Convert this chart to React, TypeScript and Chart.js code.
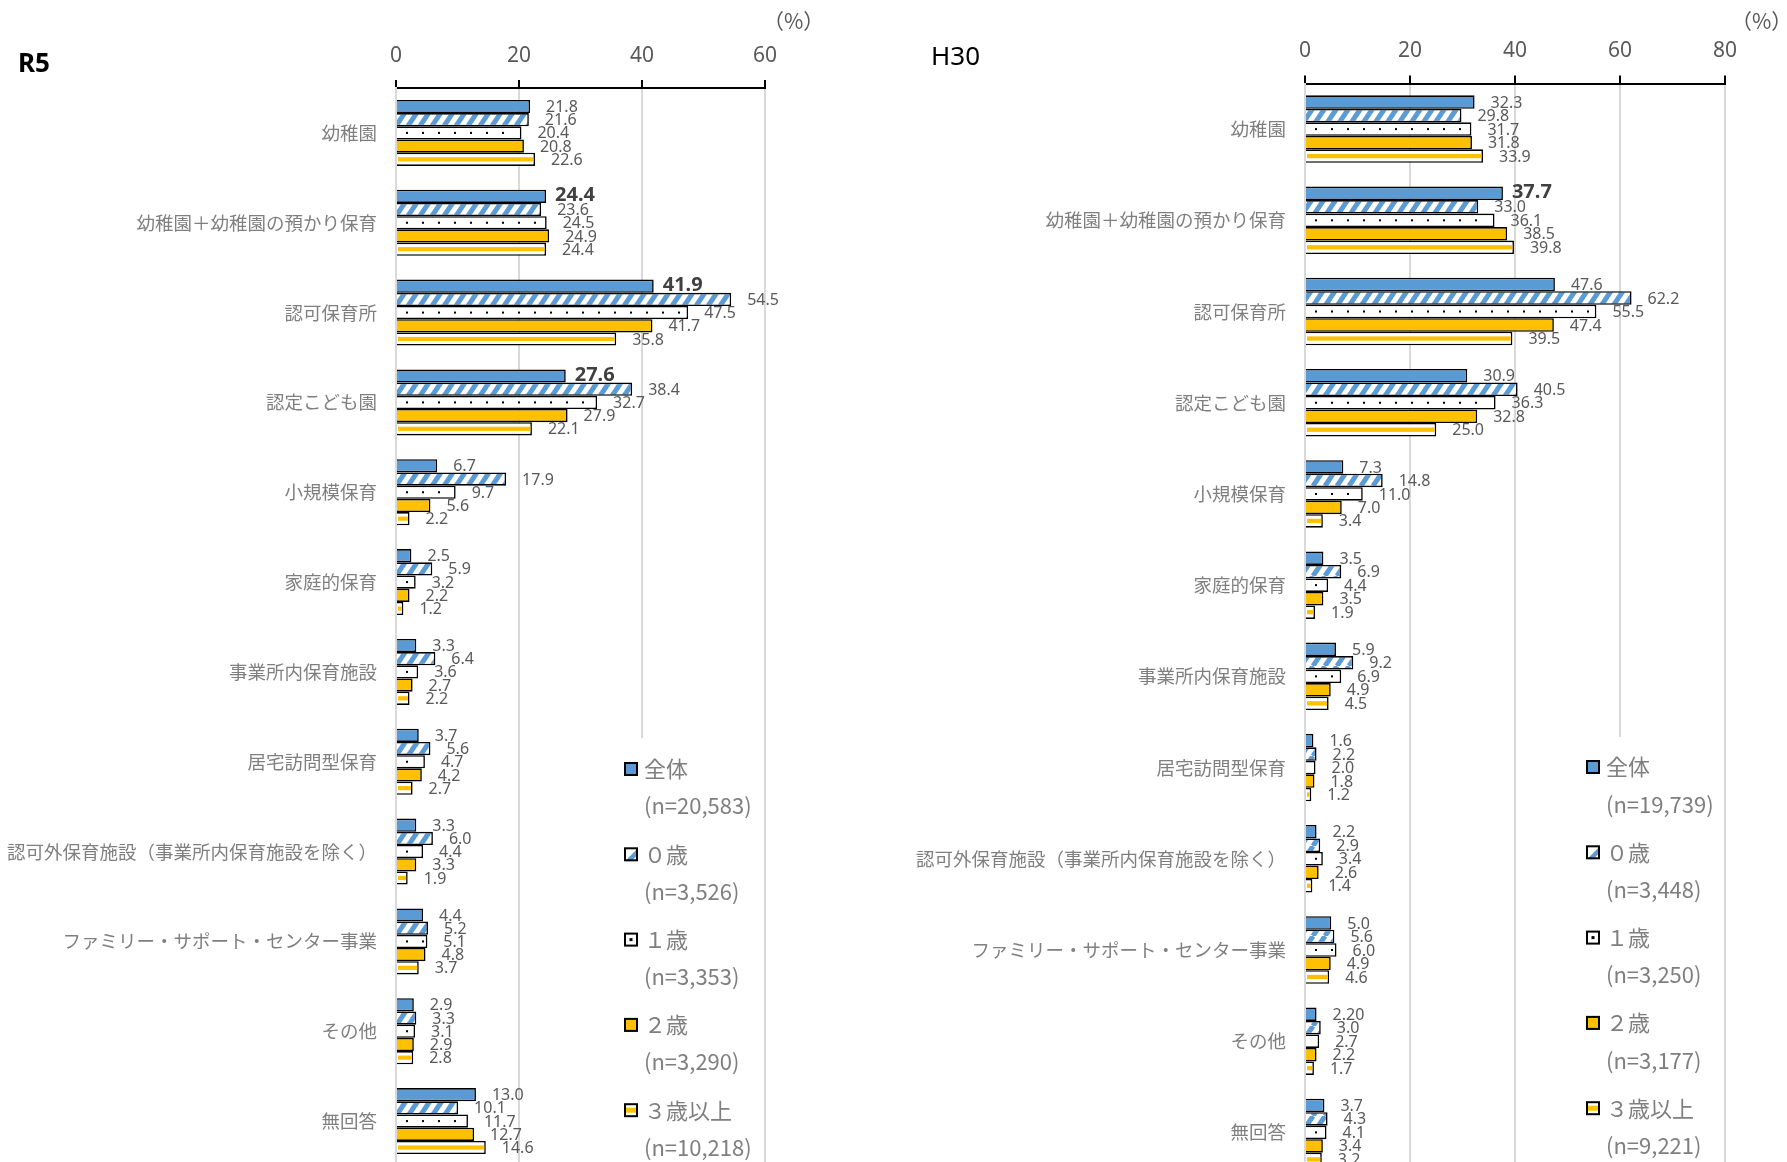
import React, { useEffect, useRef } from 'react';
import { Chart, registerables } from 'chart.js';

Chart.register(...registerables);

// ---------- DATA ----------
const categories = [
  '幼稚園',
  '幼稚園＋幼稚園の預かり保育',
  '認可保育所',
  '認定こども園',
  '小規模保育',
  '家庭的保育',
  '事業所内保育施設',
  '居宅訪問型保育',
  '認可外保育施設（事業所内保育施設を除く）',
  'ファミリー・サポート・センター事業',
  'その他',
  '無回答',
];

const seriesNames = ['全体', '０歳', '１歳', '２歳', '３歳以上'];

const r5Counts = ['(n=20,583)', '(n=3,526)', '(n=3,353)', '(n=3,290)', '(n=10,218)'];
const h30Counts = ['(n=19,739)', '(n=3,448)', '(n=3,250)', '(n=3,177)', '(n=9,221)'];

const r5All = [21.8, 24.4, 41.9, 27.6, 6.7, 2.5, 3.3, 3.7, 3.3, 4.4, 2.9, 13.0];
const r5Age0 = [21.6, 23.6, 54.5, 38.4, 17.9, 5.9, 6.4, 5.6, 6.0, 5.2, 3.3, 10.1];
const r5Age1 = [20.4, 24.5, 47.5, 32.7, 9.7, 3.2, 3.6, 4.7, 4.4, 5.1, 3.1, 11.7];
const r5Age2 = [20.8, 24.9, 41.7, 27.9, 5.6, 2.2, 2.7, 4.2, 3.3, 4.8, 2.9, 12.7];
const r5Age3 = [22.6, 24.4, 35.8, 22.1, 2.2, 1.2, 2.2, 2.7, 1.9, 3.7, 2.8, 14.6];

const h30All = [32.3, 37.7, 47.6, 30.9, 7.3, 3.5, 5.9, 1.6, 2.2, 5.0, 2.2, 3.7];
const h30Age0 = [29.8, 33.0, 62.2, 40.5, 14.8, 6.9, 9.2, 2.2, 2.9, 5.6, 3.0, 4.3];
const h30Age1 = [31.7, 36.1, 55.5, 36.3, 11.0, 4.4, 6.9, 2.0, 3.4, 6.0, 2.7, 4.1];
const h30Age2 = [31.8, 38.5, 47.4, 32.8, 7.0, 3.5, 4.9, 1.8, 2.6, 4.9, 2.2, 3.4];
const h30Age3 = [33.9, 39.8, 39.5, 25.0, 3.4, 1.9, 4.5, 1.2, 1.4, 4.6, 1.7, 3.2];

const r5Ticks = [0, 20, 40, 60];
const h30Ticks = [0, 20, 40, 60, 80];

// highlighted (bold) 全体 labels by category index
const r5BoldIdx = [1, 2, 3];
const h30BoldIdx = [1];
// label text overrides: "series-category"
const r5LabelOverrides: Record<string, string> = {};
const h30LabelOverrides: Record<string, string> = { '0-10': '2.20' };

// ---------- STYLE ----------
const BLUE = '#5B9BD5';
const YELLOW = '#FFC000';
const BW = 1.6;
const JP = '"Noto Sans CJK JP", "Noto Sans", sans-serif';
const SANS = '"Noto Sans", "Noto Sans CJK JP", sans-serif';

function makeStripePattern(ctx: CanvasRenderingContext2D): CanvasPattern | string {
  const W = 12;
  const H = 18;
  const c = document.createElement('canvas');
  c.width = W;
  c.height = H;
  const g = c.getContext('2d');
  if (!g) return BLUE;
  g.fillStyle = '#ffffff';
  g.fillRect(0, 0, W, H);
  g.strokeStyle = BLUE;
  g.lineWidth = 5;
  for (const k of [-W, 0, W]) {
    g.beginPath();
    g.moveTo(k, H);
    g.lineTo(k + W, 0);
    g.stroke();
  }
  return ctx.createPattern(c, 'repeat') || BLUE;
}

type PanelSpec = {
  values: number[][];
  counts: string[];
  ticks: number[];
  title: string;
  titleBold: boolean;
  titlePos: [number, number];
  pctPos: [number, number];
  boldIdx: number[];
  overrides: Record<string, string>;
  axisW: number;
  axisH: number;
  padRight: number;
  catPct: number;
  tickPad: number;
  legendX: number;
  legendY: number;
  legendStep: number;
  nOffset: number;
  legendBox: [number, number, number, number];
};

function drawSwatch(ctx: CanvasRenderingContext2D, di: number, x: number, y: number) {
  const s = 14;
  ctx.save();
  ctx.fillStyle = di === 0 ? BLUE : di === 3 ? YELLOW : '#ffffff';
  ctx.fillRect(x, y, s, s);
  if (di === 1) {
    ctx.save();
    ctx.beginPath();
    ctx.rect(x, y, s, s);
    ctx.clip();
    ctx.strokeStyle = BLUE;
    ctx.lineWidth = 4.5;
    ctx.beginPath();
    ctx.moveTo(x + 3, y + s + 1);
    ctx.lineTo(x + s + 1, y + 3);
    ctx.stroke();
    ctx.restore();
  }
  if (di === 2) {
    ctx.fillStyle = '#000';
    ctx.fillRect(x + s / 2 - 1.5, y + s / 2 - 1.5, 3, 3);
  }
  if (di === 4) {
    ctx.fillStyle = YELLOW;
    ctx.fillRect(x, y + s / 2 - 2.5, s, 5);
  }
  ctx.strokeStyle = '#000';
  ctx.lineWidth = 2;
  ctx.strokeRect(x + 1, y + 1, s - 2, s - 2);
  ctx.restore();
}

function makePlugin(spec: PanelSpec) {
  return {
    id: 'customDecor',
    afterDatasetsDraw(chart: any) {
      const ctx: CanvasRenderingContext2D = chart.ctx;
      ctx.save();
      // pattern overlays (dots / horizontal stripe)
      chart.data.datasets.forEach((_ds: any, di: number) => {
        const meta = chart.getDatasetMeta(di);
        meta.data.forEach((el: any) => {
          const p = el.getProps(['x', 'y', 'base', 'height'], true);
          const left = Math.min(p.x, p.base);
          const right = Math.max(p.x, p.base);
          const top = p.y - p.height / 2;
          const bottom = p.y + p.height / 2;
          if (di === 2) {
            ctx.fillStyle = '#000';
            for (let px = left + 10; px < right - BW - 2; px += 16) {
              ctx.fillRect(px - 1, p.y - 1, 2, 2);
            }
          }
          if (di === 4) {
            const ih = bottom - top - 2 * BW;
            const sh = ih * 0.42;
            ctx.fillStyle = YELLOW;
            ctx.fillRect(left + 1, p.y - sh / 2, right - left - BW - 1, sh);
          }
        });
      });
      // data labels
      ctx.textBaseline = 'middle';
      ctx.textAlign = 'left';
      chart.data.datasets.forEach((ds: any, di: number) => {
        const meta = chart.getDatasetMeta(di);
        meta.data.forEach((el: any, i: number) => {
          const p = el.getProps(['x', 'y', 'base'], true);
          const right = Math.max(p.x, p.base);
          const bold = di === 0 && spec.boldIdx.includes(i);
          const key = `${di}-${i}`;
          const txt = spec.overrides[key] ?? Number(ds.data[i]).toFixed(1);
          ctx.font = bold ? `bold 20px ${SANS}` : `16px ${SANS}`;
          ctx.fillStyle = bold ? '#404040' : '#595959';
          ctx.fillText(txt, right + (bold ? 9 : 16), p.y + (bold ? -1 : 1));
        });
      });
      ctx.restore();
    },
    afterDraw(chart: any) {
      const ctx: CanvasRenderingContext2D = chart.ctx;
      ctx.save();
      // title
      ctx.textBaseline = 'middle';
      ctx.textAlign = 'left';
      ctx.fillStyle = '#000';
      ctx.font = `${spec.titleBold ? 'bold ' : ''}26px ${SANS}`;
      ctx.fillText(spec.title, spec.titlePos[0], spec.titlePos[1]);
      // unit
      ctx.fillStyle = '#595959';
      ctx.font = `21px ${JP}`;
      ctx.fillText('（%）', spec.pctPos[0], spec.pctPos[1]);
      // legend box
      const [bx, by, bw, bh] = spec.legendBox;
      ctx.fillStyle = '#ffffff';
      ctx.fillRect(bx, by, bw, bh);
      ctx.font = `22px ${JP}`;
      seriesNames.forEach((name, di) => {
        const cy = spec.legendY + di * spec.legendStep;
        drawSwatch(ctx, di, spec.legendX, cy - 7);
        ctx.fillStyle = '#7f7f7f';
        ctx.fillText(name, spec.legendX + 20, cy);
        ctx.fillText(spec.counts[di], spec.legendX + 20, cy + spec.nOffset);
      });
      ctx.restore();
    },
  };
}

function buildConfig(spec: PanelSpec, ctx: CanvasRenderingContext2D): any {
  const stripe = makeStripePattern(ctx);
  const fills = [BLUE, stripe, '#ffffff', YELLOW, '#ffffff'];
  const datasets = spec.values.map((vals, di) => ({
    label: seriesNames[di],
    data: vals,
    backgroundColor: fills[di],
    borderColor: '#000000',
    borderWidth: BW,
    categoryPercentage: spec.catPct,
    barPercentage: 1,
  }));
  const xMax = spec.ticks[spec.ticks.length - 1];
  const step = spec.ticks[1] - spec.ticks[0];
  return {
    type: 'bar',
    data: { labels: categories, datasets },
    options: {
      indexAxis: 'y',
      responsive: false,
      maintainAspectRatio: false,
      animation: false,
      events: [],
      layout: { padding: { top: 0, right: spec.padRight, bottom: 0, left: 0 } },
      plugins: {
        legend: { display: false },
        tooltip: { enabled: false },
        title: { display: false },
      },
      scales: {
        x: {
          position: 'top',
          min: 0,
          max: xMax,
          ticks: {
            stepSize: step,
            padding: spec.tickPad,
            color: '#595959',
            font: { family: SANS, size: 21 },
          },
          grid: {
            color: '#d9d9d9',
            lineWidth: 2,
            tickColor: '#000000',
            tickLength: 8,
            tickWidth: 2,
          },
          border: { display: true, color: '#000000', width: 2 },
          afterFit: (s: any) => {
            s.height = spec.axisH;
            s.paddingLeft = 0;
            s.paddingRight = 0;
          },
        },
        y: {
          ticks: {
            padding: 19,
            color: '#7f7f7f',
            autoSkip: false,
            font: { family: JP, size: 18.5 },
          },
          grid: { display: false, drawTicks: false },
          border: { display: true, color: '#d9d9d9', width: 2 },
          afterFit: (s: any) => {
            s.width = spec.axisW;
            s.paddingTop = 0;
            s.paddingBottom = 0;
          },
        },
      },
    },
    plugins: [makePlugin(spec)],
  };
}

const r5Spec: PanelSpec = {
  values: [r5All, r5Age0, r5Age1, r5Age2, r5Age3],
  counts: r5Counts,
  ticks: r5Ticks,
  title: 'R5',
  titleBold: true,
  titlePos: [18, 65],
  pctPos: [763, 21],
  boldIdx: r5BoldIdx,
  overrides: r5LabelOverrides,
  axisW: 396,
  axisH: 88,
  padRight: 128,
  catPct: 0.735,
  tickPad: 11,
  legendX: 624,
  legendY: 769,
  legendStep: 85.3,
  nOffset: 37,
  legendBox: [612, 738, 146, 440],
};

const h30Spec: PanelSpec = {
  values: [h30All, h30Age0, h30Age1, h30Age2, h30Age3],
  counts: h30Counts,
  ticks: h30Ticks,
  title: 'H30',
  titleBold: false,
  titlePos: [38, 58],
  pctPos: [838, 21],
  boldIdx: h30BoldIdx,
  overrides: h30LabelOverrides,
  axisW: 412,
  axisH: 83.5,
  padRight: 62,
  catPct: 0.74,
  tickPad: 11.5,
  legendX: 693,
  legendY: 767,
  legendStep: 85.3,
  nOffset: 37.5,
  legendBox: [685, 737, 140, 450],
};

function ChartPanel({ spec, left, width, height }: { spec: PanelSpec; left: number; width: number; height: number }) {
  const ref = useRef<HTMLCanvasElement>(null);
  useEffect(() => {
    const canvas = ref.current;
    if (!canvas) return;
    const ctx = canvas.getContext('2d') as CanvasRenderingContext2D;
    const chart = new Chart(canvas, buildConfig(spec, ctx));
    return () => chart.destroy();
  }, [spec]);
  return (
    <div style={{ position: 'absolute', left, top: 0, width, height }}>
      <canvas ref={ref} width={width} height={height} style={{ width, height, display: 'block' }} />
    </div>
  );
}

export default function App() {
  return (
    <div
      style={{
        position: 'absolute',
        left: 0,
        top: 0,
        width: 1787,
        height: 1162,
        overflow: 'hidden',
        background: '#ffffff',
      }}
    >
      <ChartPanel spec={r5Spec} left={0} width={893} height={1166} />
      <ChartPanel spec={h30Spec} left={893} width={894} height={1178} />
    </div>
  );
}
